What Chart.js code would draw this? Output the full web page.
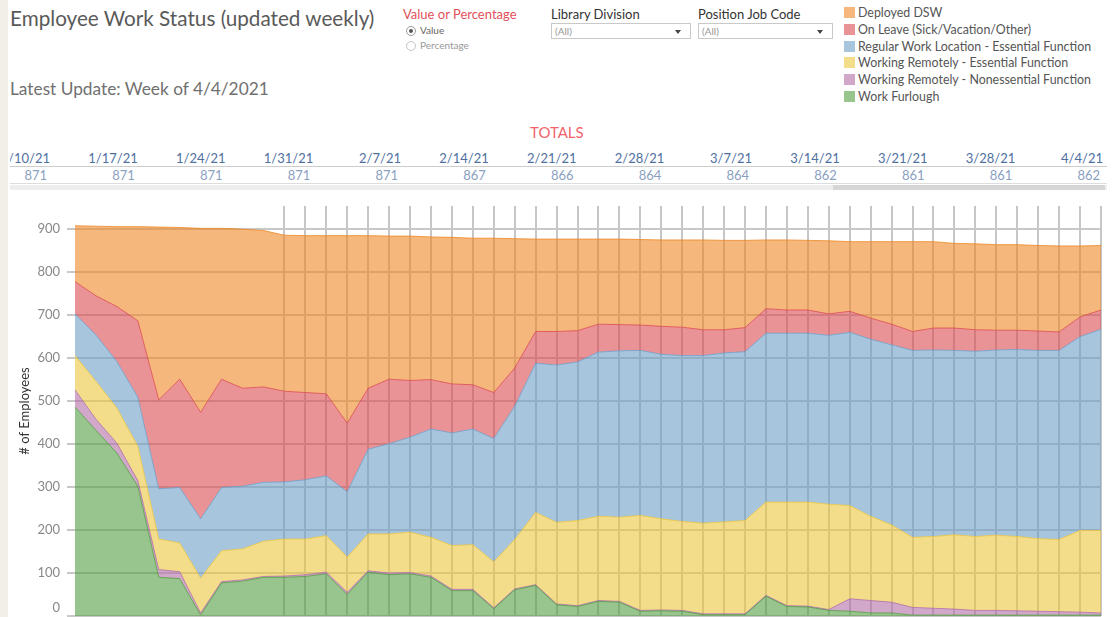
<!DOCTYPE html>
<html>
<head>
<meta charset="utf-8">
<title>Employee Work Status</title>
<script src="https://cdn.jsdelivr.net/npm/chart.js@4.4.1/dist/chart.umd.min.js"></script>
<style>
  html, body { margin: 0; padding: 0; background: #fff; width: 1114px; height: 617px; overflow: hidden; font-family: Lato, "Open Sans", sans-serif; }
  .abs { position: absolute; white-space: nowrap; }
  .strip { position: absolute; left: 0; top: 0; width: 8px; height: 617px; background: #f2efe8; }
  #title { left: 10px; top: 6px; font-size: 20.7px; line-height: 24px; color: #5a5a5a; }
  #updated { left: 10px; top: 79px; font-size: 17.3px; line-height: 20px; color: #707070; }
  .filterTitle { top: 6px; font-size: 13px; line-height: 16px; color: #333; }
  #vop { left: 403px; color: #e2505a; }
  .radio { position: absolute; width: 8px; height: 8px; border: 1px solid #9a9a9a; border-radius: 50%; left: 406px; }
  .radio.on::after { content: ''; position: absolute; left: 2px; top: 2px; width: 4px; height: 4px; border-radius: 50%; background: #555; }
  .radioLbl { left: 420px; font-size: 10px; line-height: 12px; }
  .dropdown { position: absolute; top: 23px; height: 14px; border: 1px solid #c9c9c9; background: #fff; }
  .dropdown span { position: absolute; left: 3px; top: 0; font-size: 10px; line-height: 14px; color: #999; }
  .dropdown i { position: absolute; right: 9px; top: 6px; width: 0; height: 0; border-left: 3px solid transparent; border-right: 3px solid transparent; border-top: 4px solid #444; }
  .legRow { position: absolute; left: 844px; height: 14px; }
  .legRow b { position: absolute; left: 0; top: 1px; width: 11px; height: 11px; }
  .legRow span { position: absolute; left: 14px; top: 0; font-size: 12.4px; line-height: 14px; color: #555; white-space: nowrap; }
  #totalsTitle { left: 530px; top: 123px; font-size: 15px; line-height: 18px; color: #f0636b; }
  #table { position: absolute; left: 10px; top: 140px; width: 1097px; height: 50px; overflow: hidden; }
  .cell { position: absolute; width: 80px; text-align: right; font-size: 13px; line-height: 16px; }
  .date { top: 10px; color: #4f6f9f; }
  .tot { top: 27px; color: #8aa0bf; }
  .hline { position: absolute; left: 0; width: 1097px; height: 1px; }
  #chartBox { position: absolute; left: 0; top: 196px; width: 1110px; height: 421px; }
</style>
</head>
<body>
<div class="strip"></div>
<div id="title" class="abs">Employee Work Status (updated weekly)</div>
<div id="updated" class="abs">Latest Update: Week of 4/4/2021</div>

<div id="vop" class="abs filterTitle">Value or Percentage</div>
<div class="radio on" style="top:26px"></div>
<div class="abs radioLbl" style="top:24px;color:#666">Value</div>
<div class="radio" style="top:41px;border-color:#c4c4c4"></div>
<div class="abs radioLbl" style="top:39px;color:#999">Percentage</div>

<div class="abs filterTitle" style="left:551px">Library Division</div>
<div class="dropdown" style="left:551px;width:138px"><span>(All)</span><i></i></div>
<div class="abs filterTitle" style="left:698px">Position Job Code</div>
<div class="dropdown" style="left:698px;width:133px"><span>(All)</span><i></i></div>

<div id="legend"></div>

<div id="totalsTitle" class="abs">TOTALS</div>
<div id="table">
  <div class="hline" style="top:26px;background:#cccccc"></div>
  <div class="hline" style="top:43px;background:#dddddd"></div>
  <div class="hline" style="top:45px;height:5px;background:#eeeeee"></div>
  <div class="hline" style="top:45px;height:5px;left:823px;width:272px;background:#d6d6d6"></div>
</div>

<div id="chartBox"><canvas id="statusChart"></canvas></div>

<script>
// semanas do gráfico (eixo x)
const weeks = ['4/26/20', '5/3/20', '5/10/20', '5/17/20', '5/24/20', '5/31/20', '6/7/20', '6/14/20', '6/21/20', '6/28/20',
    '7/5/20', '7/12/20', '7/19/20', '7/26/20', '8/2/20', '8/9/20', '8/16/20', '8/23/20', '8/30/20', '9/6/20',
    '9/13/20', '9/20/20', '9/27/20', '10/4/20', '10/11/20', '10/18/20', '10/25/20', '11/1/20', '11/8/20', '11/15/20',
    '11/22/20', '11/29/20', '12/6/20', '12/13/20', '12/20/20', '12/27/20', '1/3/21', '1/10/21', '1/17/21', '1/24/21',
    '1/31/21', '2/7/21', '2/14/21', '2/21/21', '2/28/21', '3/7/21', '3/14/21', '3/21/21', '3/28/21', '4/4/21'];

const workFurlough = [486, 432, 379, 302, 90, 87, 2, 77, 81, 90,
    90, 92, 98, 50, 102, 96, 98, 90, 59, 59,
    17, 61, 71, 26, 22, 34, 32, 11, 12, 11,
    3, 3, 3, 46, 22, 21, 13, 11, 7, 7,
    2, 2, 2, 2, 2, 2, 2, 2, 2, 2];
const remoteNonessential = [40, 26, 23, 13, 18, 16, 5, 3, 3, 2,
    3, 4, 4, 5, 3, 4, 3, 3, 3, 3,
    2, 2, 2, 2, 2, 2, 2, 2, 2, 2,
    2, 2, 2, 2, 2, 2, 2, 29, 29, 25,
    18, 16, 14, 11, 11, 10, 9, 8, 7, 5];
const remoteEssential = [80, 88, 82, 80, 71, 67, 81, 72, 72, 82,
    86, 83, 85, 82, 86, 91, 94, 90, 102, 104,
    107, 115, 168, 190, 198, 196, 196, 221, 212, 207,
    211, 214, 217, 217, 241, 242, 245, 217, 196, 180,
    163, 167, 173, 172, 175, 173, 169, 168, 190, 192];
const regularLocation = [97, 108, 108, 114, 117, 129, 138, 147, 146, 137,
    133, 138, 139, 152, 197, 210, 221, 252, 262, 269,
    287, 310, 347, 366, 369, 382, 387, 384, 383, 386,
    390, 393, 393, 393, 393, 393, 393, 403, 412, 419,
    435, 434, 429, 431, 431, 435, 438, 440, 451, 468];
const onLeave = [75, 91, 128, 178, 207, 252, 248, 252, 228, 222,
    211, 203, 191, 160, 142, 150, 132, 115, 114, 103,
    107, 89, 74, 78, 73, 65, 61, 59, 65, 66,
    60, 54, 56, 57, 54, 54, 50, 49, 49, 48,
    44, 51, 52, 50, 46, 45, 45, 43, 46, 45];
const deployedDSW = [130, 162, 186, 219, 402, 353, 428, 351, 370, 364,
    363, 365, 368, 436, 355, 333, 336, 332, 341, 341,
    359, 301, 215, 215, 213, 198, 199, 199, 201, 203,
    209, 208, 203, 160, 163, 162, 170, 162, 178, 192,
    209, 201, 197, 200, 199, 199, 199, 200, 165, 150];

// tabela de totais (cabeçalho)
const tableWeeks = ['1/10/21', '1/17/21', '1/24/21', '1/31/21', '2/7/21', '2/14/21', '2/21/21',
    '2/28/21', '3/7/21', '3/14/21', '3/21/21', '3/28/21', '4/4/21'];
const tableTotals = [871, 871, 871, 871, 871, 867, 866, 864, 864, 862, 861, 861, 862];

const yTicks = [0, 100, 200, 300, 400, 500, 600, 700, 800, 900];

// do topo para baixo, como na legenda
const seriesNames = ['Deployed DSW', 'On Leave (Sick/Vacation/Other)', 'Regular Work Location - Essential Function',
    'Working Remotely - Essential Function', 'Working Remotely - Nonessential Function', 'Work Furlough'];
const seriesData = [deployedDSW, onLeave, regularLocation, remoteEssential, remoteNonessential, workFurlough];
const seriesRGB = ['238,135,35', '220,75,80', '110,158,200', '235,198,62', '178,110,165', '83,158,65'];

// legenda
const legendEl = document.getElementById('legend');
seriesNames.forEach((name, i) => {
    const row = document.createElement('div');
    row.className = 'legRow';
    row.style.top = (6 + i * 16.8) + 'px';
    row.innerHTML = `<b style="background:rgba(${seriesRGB[i]},0.6)"></b><span>${name}</span>`;
    legendEl.appendChild(row);
});

// tabela de totais
const tableEl = document.getElementById('table');
tableWeeks.forEach((w, i) => {
    const right = 40 + i * 87.75;
    const d = document.createElement('div');
    d.className = 'cell date';
    d.style.left = (right - 80) + 'px';
    d.textContent = w;
    tableEl.appendChild(d);
    const t = document.createElement('div');
    t.className = 'cell tot';
    t.style.left = (right - 83) + 'px';
    t.textContent = tableTotals[i];
    tableEl.appendChild(t);
});

// datasets empilhados de baixo para cima
const datasets = seriesData.map((data, i) => ({
    label: seriesNames[i],
    data: data,
    backgroundColor: `rgba(${seriesRGB[i]},0.6)`,
    borderColor: `rgba(${seriesRGB[i]},0.8)`,
    borderWidth: 1,
    pointRadius: 0,
    tension: 0
})).reverse();
datasets.forEach((ds, i) => { ds.fill = i === 0 ? 'origin' : '-1'; });

const ctx = document.getElementById('statusChart').getContext('2d');
new Chart(ctx, {
    type: 'line',
    data: { labels: weeks, datasets: datasets },
    options: {
        responsive: true,
        maintainAspectRatio: false,
        animation: false,
        layout: { padding: { top: 10, right: 9, bottom: 1, left: 0 } },
        plugins: { legend: { display: false }, tooltip: { enabled: false } },
        scales: {
            x: {
                type: 'category',
                offset: false,
                ticks: { display: false },
                border: { display: false },
                grid: {
                    drawTicks: false,
                    lineWidth: 2,
                    color: c => c.index >= 10 ? '#c6c6c6' : 'rgba(0,0,0,0)'
                }
            },
            y: {
                stacked: true,
                min: 0,
                max: 954,
                afterBuildTicks: scale => { scale.ticks = yTicks.map(v => ({ value: v })); },
                afterFit: scale => {
                    scale.width = 75;
                    // sem folga extra em cima/embaixo: a área do gráfico vai até a borda
                    scale.paddingTop = 0;
                    scale.paddingBottom = 0;
                },
                border: { display: false },
                grid: { color: '#c8c8c8', lineWidth: 2, tickLength: 8, tickColor: '#c8c8c8' },
                ticks: {
                    padding: 7,
                    color: '#888',
                    font: { family: 'Lato, "Open Sans", sans-serif', size: 13 },
                    callback: v => v === 0 ? ['0', ''] : v
                },
                title: {
                    display: true,
                    text: '# of Employees',
                    color: '#333',
                    font: { family: 'Lato, "Open Sans", sans-serif', size: 13 },
                    padding: { top: 17, bottom: 0 }
                }
            }
        }
    }
});
</script>
</body>
</html>
